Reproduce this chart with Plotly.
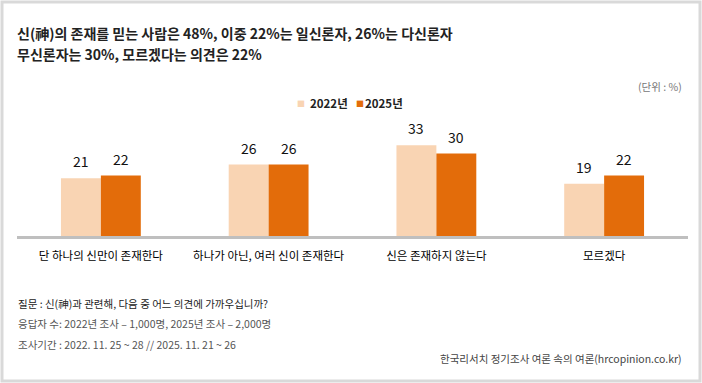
import plotly.graph_objects as go

categories = ["단 하나의 신만이 존재한다", "하나가 아닌, 여러 신이 존재한다", "신은 존재하지 않는다", "모르겠다"]
series_names = ["2022년", "2025년"]
v2022 = [21, 26, 33, 19]
v2025 = [22, 26, 30, 22]

title_lines = ["신(神)의 존재를 믿는 사람은 48%, 이중 22%는 일신론자, 26%는 다신론자",
               "무신론자는 30%, 모르겠다는 의견은 22%"]
unit_text = "(단위 : %)"
footer_lines = ["질문 : 신(神)과 관련해, 다음 중 어느 의견에 가까우십니까?",
                "응답자 수: 2022년 조사 – 1,000명, 2025년 조사 – 2,000명",
                "조사기간 : 2022. 11. 25 ~ 28 // 2025. 11. 21 ~ 26"]
source_text = "한국리서치 정기조사 여론 속의 여론(hrcopinion.co.kr)"

C_LIGHT = "#F9D4B3"
C_DARK = "#E36C0A"
FONT = "Noto Sans CJK KR"

W, H = 702, 383
L, R = 17, 688          # plot area x pixels
BASE, TOP = 236, 126    # plot area y pixels
YMAX = 40

def px(x):
    return (x - L) / (R - L)

def py(y):
    return (BASE - y) / (BASE - TOP)

fig = go.Figure()
fig.add_trace(go.Bar(x=categories, y=v2022, name=series_names[0], marker_color=C_LIGHT,
                     marker_line_width=0, hoverinfo="skip"))
fig.add_trace(go.Bar(x=categories, y=v2025, name=series_names[1], marker_color=C_DARK,
                     marker_line_width=0, hoverinfo="skip"))

annotations = []
# value labels
for vals, shift in ((v2022, -20), (v2025, 20)):
    for c, v in zip(categories, vals):
        annotations.append(dict(x=c, y=v, xref="x", yref="y", text=str(v), showarrow=False,
                                xshift=shift, yshift=17, yanchor="middle",
                                font=dict(family=FONT, size=14, color="#111")))
# title
for i, t in enumerate(title_lines):
    annotations.append(dict(x=px(15), y=py(33 + 21 * i), xref="paper", yref="paper", text="<b>" + t + "</b>",
                            showarrow=False, xanchor="left", yanchor="middle",
                            font=dict(family=FONT, size=14, color="#222")))
# unit
annotations.append(dict(x=px(684), y=py(86), xref="paper", yref="paper", text=unit_text,
                        showarrow=False, xanchor="right", yanchor="middle",
                        font=dict(family=FONT, size=10.5, color="#777")))
# legend
for (sx, tx), name, col in (((301, 308), series_names[0], C_LIGHT), ((360, 363), series_names[1], C_DARK)):
    annotations.append(dict(x=px(sx), y=py(103), xref="paper", yref="paper", text="■",
                            showarrow=False, xanchor="center", yanchor="middle",
                            font=dict(family=FONT, size=8, color=col)))
    annotations.append(dict(x=px(tx), y=py(103), xref="paper", yref="paper", text="<b>" + name + "</b>",
                            showarrow=False, xanchor="left", yanchor="middle",
                            font=dict(family=FONT, size=11.5, color="#222")))
# footer
fcols = ["#222", "#555", "#555"]
for i, t in enumerate(footer_lines):
    annotations.append(dict(x=px(16), y=py(303 + 20.5 * i), xref="paper", yref="paper", text=t,
                            showarrow=False, xanchor="left", yanchor="middle",
                            font=dict(family=FONT, size=10.5, color=fcols[i])))
annotations.append(dict(x=px(684), y=py(358), xref="paper", yref="paper", text=source_text,
                        showarrow=False, xanchor="right", yanchor="middle",
                        font=dict(family=FONT, size=10.5, color="#444")))

shapes = [
    dict(type="rect", xref="paper", yref="paper", x0=px(2), x1=px(700), y0=py(2), y1=py(381),
         line=dict(color="#D9D9D9", width=3), fillcolor="rgba(0,0,0,0)", layer="below"),
    dict(type="line", xref="paper", yref="paper", x0=px(L), x1=px(R), y0=py(237.5), y1=py(237.5),
         line=dict(color="#BFBFBF", width=3), layer="above"),
]

fig.update_layout(
    width=W, height=H,
    margin=dict(l=L, r=W - R, t=TOP, b=H - BASE, pad=0),
    paper_bgcolor="white", plot_bgcolor="white",
    barmode="group", bargap=0.524, bargroupgap=0,
    showlegend=False,
    xaxis=dict(showgrid=False, zeroline=False, showline=False, ticks="",
               tickfont=dict(family=FONT, size=11.5, color="#000"), ticklabelstandoff=11),
    yaxis=dict(range=[0, YMAX], visible=False, showgrid=False, zeroline=False),
    annotations=annotations, shapes=shapes,
    font=dict(family=FONT),
)

fig.write_html("out.html", config={"displayModeBar": False},
               post_script="document.body.style.margin='0';document.body.style.overflow='hidden';")
